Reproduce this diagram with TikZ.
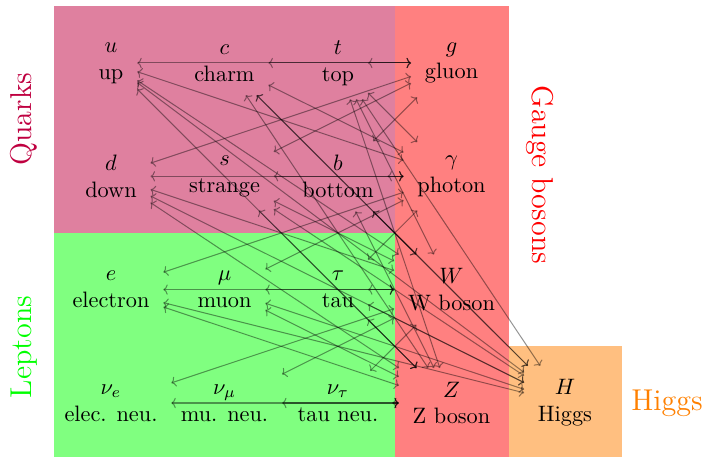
\documentclass[tikz,border=0pt]{standalone}
\usetikzlibrary{arrows.meta}
\begin{document}
\begin{tikzpicture}[x=0.4484pt,y=-0.4484pt,
  particle/.style={align=center,inner sep=6pt},
  link/.style={{To[length=2pt,width=4.6pt]}-{To[length=2pt,width=4.6pt]},draw=black,draw opacity=0.42,line width=0.45pt},
  grouplabel/.style={font=\fontsize{13.5}{16}\selectfont}]
\useasboundingbox (0,0) rectangle (702,457);
% regions
\fill[purple!50] (54.3,6.3) rectangle (394.8,232.7);
\fill[green!50] (54.3,232.7) rectangle (394.8,457);
\fill[red!50] (394.8,6.3) rectangle (508.5,457);
\fill[orange!50] (508.5,346.3) rectangle (621.7,457);
% group labels
\node[grouplabel,text=purple,rotate=90] (lq) at (24,119) {Quarks};
\node[grouplabel,text=green,rotate=90] (ll) at (24,347) {Leptons};
\node[grouplabel,text=red,rotate=-90] (lg) at (540,175) {Gauge bosons};
\node[grouplabel,text=orange] (lh) at (667,403) {Higgs};
% particles
\node[particle] (u)   at (111,63)    {$u$\\up};
\node[particle] (c)   at (224.5,63)  {$c$\\charm};
\node[particle] (t)   at (338,63)    {$t$\\top};
\node[particle] (g)   at (451.5,63)  {$g$\\gluon};
\node[particle] (d)   at (111,176.3)   {$d$\\down};
\node[particle] (s)   at (224.5,176.3) {$s$\\strange};
\node[particle] (b)   at (338,176.3)   {$b$\\bottom};
\node[particle] (ph)  at (451.5,176.3) {$\gamma$\\photon};
\node[particle] (e)   at (111,289.6)   {$e$\\electron};
\node[particle] (mu)  at (224.5,289.6) {$\mu$\\muon};
\node[particle] (tau) at (338,289.6)   {$\tau$\\tau};
\node[particle] (W)   at (451.5,289.6) {$W$\\W boson};
\node[particle] (nue) at (111,403)   {$\nu_e$\\elec. neu.};
\node[particle] (num) at (224.5,403) {$\nu_\mu$\\mu. neu.};
\node[particle] (nut) at (338,403)   {$\nu_\tau$\\tau neu.};
\node[particle] (Z)   at (451.5,403) {$Z$\\Z boson};
\node[particle] (H)   at (565,403)   {$H$\\Higgs};
% interactions
\foreach \f in {u,c,t,d,s,b} \draw[link] (\f) -- (g);
\foreach \f in {u,c,t,d,s,b,e,mu,tau} \draw[link] (\f) -- (ph);
\foreach \f in {u,c,t,d,s,b,e,mu,tau,nue,num,nut} {
  \draw[link] (\f) -- (W);
  \draw[link] (\f) -- (Z);
}
\foreach \f in {u,c,t,d,s,b,e,mu,tau} \draw[link] (\f) -- (H);
\end{tikzpicture}
\end{document}
